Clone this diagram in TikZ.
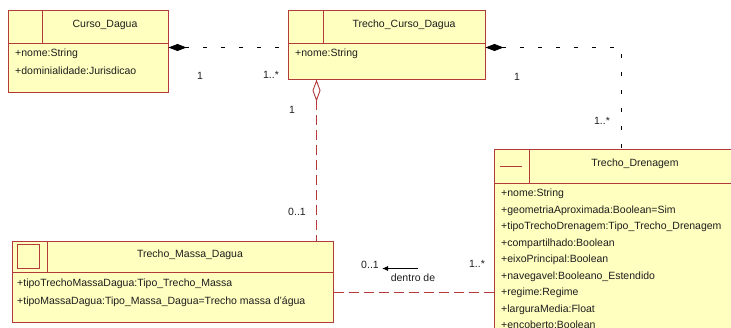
\documentclass[tikz,border=0pt]{standalone}
\usepackage{fontspec}
\setmainfont{Liberation Sans}
\usetikzlibrary{arrows.meta}

\definecolor{umlfill}{RGB}{255,255,192}
\definecolor{umlred}{RGB}{178,58,58}
\definecolor{umltext}{RGB}{30,30,30}

\tikzset{
	classbox/.style={draw=umlred,fill=umlfill,line width=0.9pt,inner sep=0,outer sep=0,anchor=north west},
	classline/.style={draw=umlred,line width=0.9pt},
	classtitle/.style={anchor=base,inner sep=0,text=umltext,font=\fontsize{10.5}{12}\selectfont},
	attrtext/.style={anchor=base west,inner sep=0,text=umltext,font=\fontsize{10.5}{12}\selectfont},
	multlabel/.style={anchor=base,inner sep=0,text=umltext,font=\fontsize{10.5}{12}\selectfont},
	blackdash/.style={draw=black,line width=0.8pt,dash pattern=on 4pt off 14pt},
	reddash/.style={draw=umlred,line width=0.9pt,dash pattern=on 10pt off 5pt}
}

\begin{document}
\begin{tikzpicture}[x=1pt,y=-1pt]
			%\draw[help lines,step=10] (0,0) grid (731,328);
			\useasboundingbox (0,0) rectangle (731,328);
			% Curso_Dagua
			\node[classbox,minimum width=160pt,minimum height=82pt] (curso) at (8.5,10.5) {};
			\draw[classline] ([yshift=-33pt]curso.north west) -- ([yshift=-33pt]curso.north east);
			\draw[classline] ([xshift=34pt]curso.north west) -- ++(0,33);
			\node[classtitle] (cursoTitle) at (105,28) {Curso\_Dagua};
			\node[attrtext] (cursoNome) at (15,57) {+nome:String};
			\node[attrtext] (cursoDom) at (15,75) {+dominialidade:Jurisdicao};
			% Trecho_Curso_Dagua
			\node[classbox,minimum width=197pt,minimum height=69pt] (trechoCurso) at (288.5,10.5) {};
			\draw[classline] ([yshift=-33pt]trechoCurso.north west) -- ([yshift=-33pt]trechoCurso.north east);
			\draw[classline] ([xshift=35pt]trechoCurso.north west) -- ++(0,33);
			\node[classtitle] (trechoCursoTitle) at (404,28) {Trecho\_Curso\_Dagua};
			\node[attrtext] (trechoCursoNome) at (295,57) {+nome:String};
			% Trecho_Drenagem
			\node[classbox,minimum width=247pt,minimum height=200pt] (drenagem) at (494.5,149.5) {};
			\draw[classline] ([yshift=-34pt]drenagem.north west) -- ([yshift=-34pt]drenagem.north east);
			\draw[classline] ([xshift=35pt]drenagem.north west) -- ++(0,34);
			\draw[classline] ([xshift=5pt,yshift=-17pt]drenagem.north west) -- ++(22,0);
			\node[classtitle] (drenagemTitle) at (635,167) {Trecho\_Drenagem};
			\foreach \attrib [count=\i from 0] in {+nome:String,+geometriaAproximada:Boolean=Sim,
				+tipoTrechoDrenagem:Tipo\_Trecho\_Drenagem,+compartilhado:Boolean,+eixoPrincipal:Boolean,
				+navegavel:Booleano\_Estendido,+regime:Regime,+larguraMedia:Float,+encoberto:Boolean}
				\node[attrtext] (dren\i) at (501,{197+16.5*\i}) {\attrib};
			% Trecho_Massa_Dagua
			\node[classbox,minimum width=321pt,minimum height=81pt] (massa) at (12.5,241.5) {};
			\draw[classline] ([yshift=-31pt]massa.north west) -- ([yshift=-31pt]massa.north east);
			\draw[classline] ([xshift=35pt]massa.north west) -- ++(0,31);
			\draw[classline] ([xshift=5pt,yshift=-3pt]massa.north west) rectangle ++(22,24);
			\node[classtitle] (massaTitle) at (190,258) {Trecho\_Massa\_Dagua};
			\node[attrtext] (massaTipo) at (17,287) {+tipoTrechoMassaDagua:Tipo\_Trecho\_Massa};
			\node[attrtext] (massaTipoMassa) at (17,305) {+tipoMassaDagua:Tipo\_Massa\_Dagua=Trecho massa d'água};
			% associations
			\draw[blackdash,{Diamond[length=18pt,width=7pt]}-] ([yshift=4pt]curso.east) -- ([yshift=4pt]curso.east -| trechoCurso.west);
			\draw[blackdash,{Diamond[length=18pt,width=7pt]}-] ([yshift=-2.5pt]trechoCurso.east) -| ([xshift=127pt]drenagem.north west);
			\draw[reddash,{Diamond[open,length=22pt,width=8pt]}-] ([xshift=28pt]trechoCurso.south west) -- ([xshift=28pt]trechoCurso.south west |- massa.north);
			\draw[reddash] ([yshift=-10.5pt]massa.east) -- ([yshift=-10.5pt]massa.east -| drenagem.west);
			% multiplicities
			\node[multlabel] (m1) at (200,80) {1};
			\node[multlabel] (m2) at (271,79) {1..*};
			\node[multlabel] (m3) at (517,81) {1};
			\node[multlabel] (m4) at (602,125) {1..*};
			\node[multlabel] (m5) at (292,114) {1};
			\node[multlabel] (m6) at (297,216) {0..1};
			\node[multlabel] (m7) at (370,269) {0..1};
			\node[multlabel] (m8) at (477,268) {1..*};
			\node[multlabel] (dentro) at (413,282) {dentro de};
			\coordinate (arrowStart) at (418,268.5);
			\coordinate (arrowEnd) at (382,268.5);
			\draw[line width=0.8pt,-{Latex[length=6pt,width=5pt]}] (arrowStart) -- (arrowEnd);
		\end{tikzpicture}
\end{document}
